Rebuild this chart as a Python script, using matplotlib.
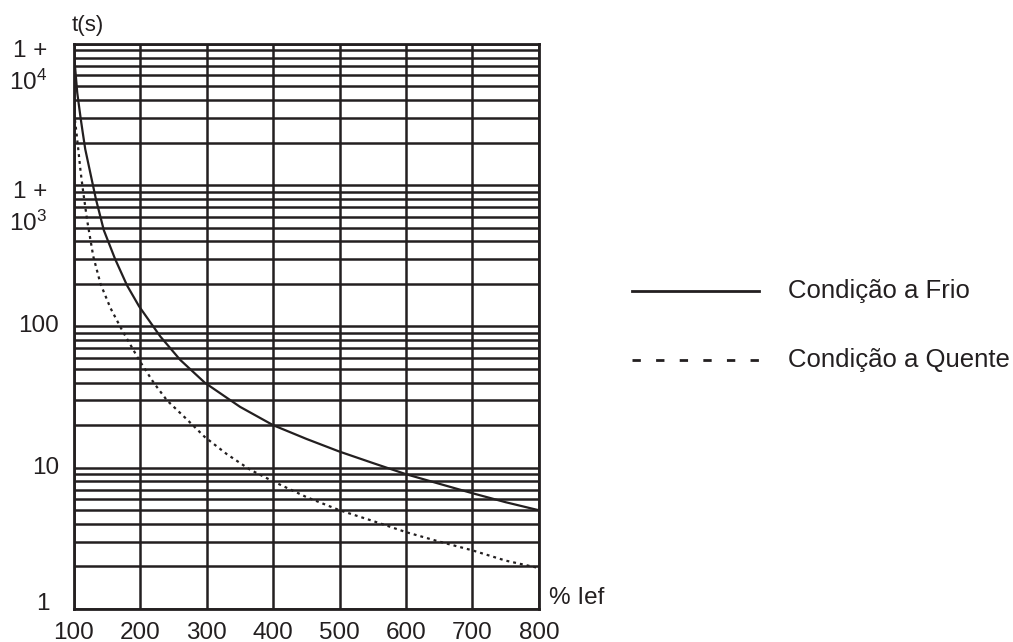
import numpy as np
import matplotlib.pyplot as plt
from matplotlib.lines import Line2D
from matplotlib.ticker import LogLocator, NullFormatter

plt.rcParams['font.family'] = ['Liberation Sans', 'DejaVu Sans']
plt.rcParams['mathtext.fontset'] = 'custom'
plt.rcParams['mathtext.rm'] = 'Liberation Sans'
plt.rcParams['mathtext.default'] = 'regular'

# curve data (% Ief vs t in s)
frio_x = [101, 105, 110, 113, 117, 125, 133, 145, 162, 180, 198, 230, 260, 297,
          350, 400, 450, 500, 550, 600, 650, 700, 750, 800]
frio_y = [7500, 4500, 3000, 2400, 1800, 1200, 800, 480, 300, 195, 139, 85, 58, 40,
          27, 20, 16, 13, 10.8, 9.0, 7.7, 6.6, 5.7, 5.0]

quente_x = [101.5, 104, 106.5, 110, 114, 120, 129, 140, 155, 172, 198, 220, 240,
            270, 297, 330, 365, 400, 450, 500, 550, 600, 650, 700, 750, 800]
quente_y = [2900, 2300, 1800, 1250, 890, 560, 315, 200, 135, 95, 58, 40, 30,
            22, 16.5, 12.5, 9.7, 8.0, 6.2, 5.0, 4.2, 3.5, 3.0, 2.6, 2.2, 1.95]

x_ticks = [100, 200, 300, 400, 500, 600, 700, 800]
y_decades = [1, 10, 100, 1000, 10000]
y_labels = [['1'], ['10'], ['100'], ['1 +', '10$^3$'], ['1 +', '10$^4$']]
legend_labels = ['Condição a Frio', 'Condição a Quente']

ink = '#231f20'

fig = plt.figure(figsize=(10.13, 6.42), dpi=100)
ax = fig.add_axes([0.0730, 0.0514, 0.4590, 0.8801])

ax.set_yscale('log')
ax.set_xlim(100, 800)
ax.set_ylim(1, 10000)

ax.set_xticks(x_ticks)
ax.set_xticklabels([str(v) for v in x_ticks], fontsize=17.5, color=ink)
ax.yaxis.set_major_locator(LogLocator(base=10, subs=np.arange(1, 10)))
ax.yaxis.set_major_formatter(NullFormatter())
ax.yaxis.set_minor_formatter(NullFormatter())
ax.tick_params(axis='both', which='both', length=0)
ax.tick_params(axis='x', pad=9)

ax.grid(True, which='major', axis='both', color=ink, linewidth=1.8)
ax.set_axisbelow(True)
for s in ax.spines.values():
    s.set_linewidth(2)
    s.set_color(ink)

ax.plot(frio_x, frio_y, color=ink, linewidth=1.6, zorder=3)
ax.plot(quente_x, quente_y, color=ink, linewidth=1.6,
        linestyle=(0, (1.3, 1.8)), zorder=3)

# y labels, the upper ones written on two lines
for val, lines in zip(y_decades, y_labels):
    if len(lines) == 1:
        dx = -24 if val == 1 else -15
        dy = 5 if val == 1 else 0
        ax.annotate(lines[0], xy=(0, val), xycoords=('axes fraction', 'data'),
                    xytext=(dx, dy), textcoords='offset pixels',
                    ha='right', va='center', fontsize=17.5, color=ink)
    else:
        ax.annotate(lines[0], xy=(0, val), xycoords=('axes fraction', 'data'),
                    xytext=(-27, -7), textcoords='offset pixels',
                    ha='right', va='center', fontsize=17.5, color=ink)
        ax.annotate(lines[1], xy=(0, val), xycoords=('axes fraction', 'data'),
                    xytext=(-27, -38), textcoords='offset pixels',
                    ha='right', va='center', fontsize=17.5, color=ink)

fig.text(72 / 1013, 1 - 25 / 642, 't(s)', fontsize=16, color=ink,
         ha='left', va='center')
fig.text(549 / 1013, 1 - 598 / 642, '% Ief', fontsize=17.5, color=ink,
         ha='left', va='center')

# legend drawn by hand
leg_rows = [291, 360]
leg_styles = ['-', (0, (3, 5.5))]
for row, style, label in zip(leg_rows, leg_styles, legend_labels):
    yf = 1 - row / 642
    fig.add_artist(Line2D([632 / 1013, 759 / 1013], [yf, yf],
                          transform=fig.transFigure, color=ink,
                          linewidth=2, linestyle=style))
    fig.text(788 / 1013, yf, label, fontsize=18.5, color=ink,
             ha='left', va='center')

fig.savefig('out.png', dpi=100)
